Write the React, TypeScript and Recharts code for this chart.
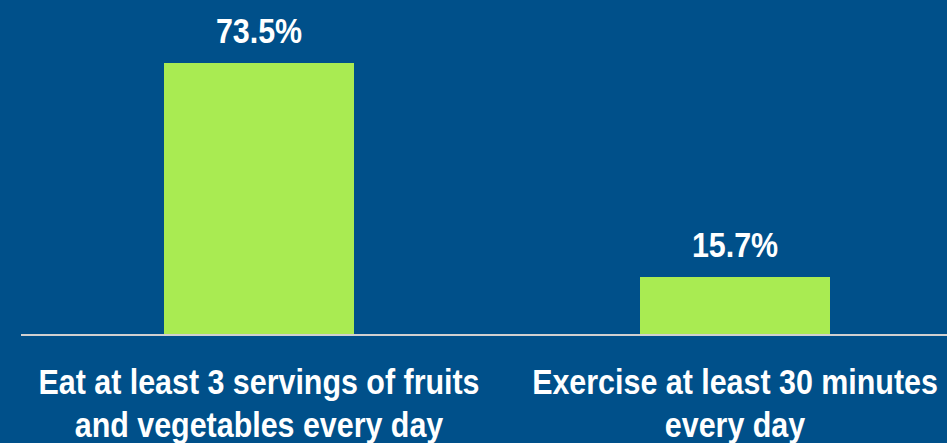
import { BarChart, Bar, XAxis, YAxis, LabelList } from 'recharts';

const categories = [
  ['Eat at least 3 servings of fruits', 'and vegetables every day'],
  ['Exercise at least 30 minutes', 'every day'],
];
const percentages = [73.5, 15.7];

const BG = '#00508A';
const BAR = '#A9EB52';
const FONT = '"Liberation Sans", Arial, sans-serif';
// no narrow font installed, so squeeze the regular bold horizontally
const SQUEEZE = 0.845;

const data = categories.map((lines, i) => ({ name: String(i), lines, value: percentages[i] }));

function CategoryTick({ x, y, payload }: any) {
  const lines = categories[Number(payload.value)] ?? [];
  return (
    <g transform={`translate(${x},${y}) scale(${SQUEEZE},1)`}>
      <text x={0} y={0} textAnchor="middle" fill="#ffffff" fontFamily={FONT} fontWeight={700} fontSize={36}>
        {lines.map((line, i) => (
          <tspan key={i} x={0} y={59 + i * 43}>
            {line}
          </tspan>
        ))}
      </text>
    </g>
  );
}

function ValueLabel({ x, y, width, value }: any) {
  return (
    <g transform={`translate(${x + width / 2},${y - 20}) scale(${SQUEEZE},1)`}>
      <text x={0} y={0} textAnchor="middle" fill="#ffffff" fontFamily={FONT} fontWeight={700} fontSize={36}>
        {value.toFixed(1)}%
      </text>
    </g>
  );
}

export default function App() {
  return (
    <div
      style={{
        position: 'absolute',
        left: 0,
        top: 0,
        width: 947,
        height: 443,
        overflow: 'hidden',
        background: BG,
      }}
    >
      <BarChart
        width={980}
        height={443}
        data={data}
        margin={{ top: 39, right: 7, left: 21, bottom: 0 }}
        barSize={190}
      >
        <XAxis
          dataKey="name"
          height={108}
          tickSize={0}
          tickMargin={0}
          tickLine={false}
          axisLine={{ stroke: '#D0D0D0', strokeWidth: 2 }}
          tick={<CategoryTick />}
          interval={0}
        />
        <YAxis hide domain={[0, 80]} />
        <Bar dataKey="value" fill={BAR} isAnimationActive={false}>
          <LabelList dataKey="value" content={<ValueLabel />} />
        </Bar>
      </BarChart>
    </div>
  );
}
